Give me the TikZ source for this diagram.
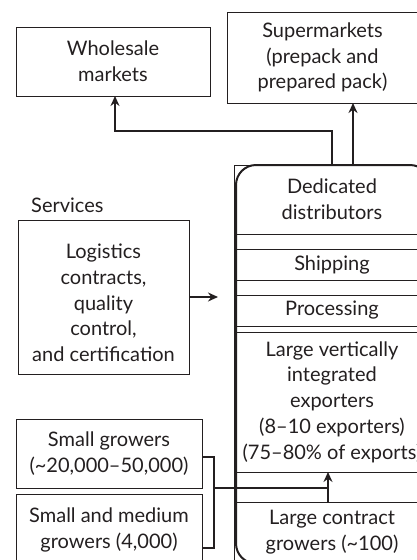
\documentclass[tikz,border=0pt]{standalone}
\usepackage{fontspec}
\setmainfont{Lato}
\usetikzlibrary{arrows.meta}
\definecolor{ink}{HTML}{231F20}
\newcommand{\lbl}{\fontsize{20}{25.7}\selectfont}
\begin{document}
\begin{tikzpicture}[x=1pt,y=-1pt,
  frame/.style={draw=ink,line width=0.9pt,inner sep=0pt,outer sep=0pt,
    align=center,font=\lbl,text=ink},
  band/.style={draw=ink,line width=0.8pt,inner sep=0pt,outer sep=0pt,
    align=center,font=\lbl,text=ink,minimum width=196pt},
  link/.style={draw=ink,line width=2pt},
  flow/.style={draw=ink,line width=2pt,-{Stealth[length=10pt,width=9pt]}},
  thinflow/.style={draw=ink,line width=1.5pt,-{Stealth[length=10pt,width=9pt]}}]
\useasboundingbox (0,0) rectangle (417,560);
\clip (0,0) rectangle (417,560);

% outlets
\node[frame,minimum width=194pt,minimum height=69pt] (whole) at (113,61.5)
  {Wholesale\\markets};
\node[frame,minimum width=191pt,minimum height=91pt] (super) at (322.5,57.5)
  {Supermarkets\\(prepack and\\prepared pack)};

% services
\node[anchor=west,font=\lbl,text=ink,inner sep=0pt] (svclabel) at (31,205) {Services};
\node[frame,minimum width=171pt,minimum height=154pt] (svc) at (103.5,297) {};
\node[font=\lbl,text=ink,align=center,inner sep=0pt] (svctext) at (103.5,303)
  {Logistics\\contracts,\\quality\\control,\\and certification};

% growers
\node[frame,minimum width=186pt,minimum height=69pt] (sg) at (109,453.5)
  {Small growers\\(\textasciitilde20,000--50,000)};
\node[frame,minimum width=186pt,minimum height=72pt] (smg) at (109,530)
  {Small and medium\\growers (4,000)};

% integrated chain
\draw[ink,line width=0.8pt] (234,165) rectangle (432,600);
\node[band,minimum height=69pt] (dist) at (332,199.5) {Dedicated\\distributors};
\node[band,minimum height=31pt] (ship) at (332,264.5) {Shipping};
\node[band,minimum height=31pt] (proc) at (332,310.5) {Processing};
\node[band,minimum height=140pt] (expo) at (332,402)
  {Large vertically\\integrated\\exporters\\(8--10 exporters)\\(75--80\% of exports)};
\node[band,minimum height=61pt] (lcg) at (332,532.5) {Large contract\\growers (\textasciitilde100)};
\draw[ink,line width=2pt,rounded corners=20pt] (236,165) rectangle (430,563.5);

% flows
\draw[flow] (dist.north) |- ([yshift=34pt]dist.north) -| ([xshift=2pt]whole.south);
\draw[flow] ([xshift=21pt]dist.north) -- ([xshift=21pt]dist.north |- super.south);
\draw[thinflow] (svc.east) -- ++(29,0) coordinate (svcend);
\coordinate (tap) at ([xshift=-4pt]lcg.north);
\draw[flow] (tap) -- (tap |- expo.south);
\draw[link] ([yshift=-3.5pt]sg.east) -- ++(12,0) coordinate (bk) |- ([yshift=-18pt]smg.east);
\draw[link] (bk |- 0,488) -- (tap |- 0,488);
\end{tikzpicture}
\end{document}
